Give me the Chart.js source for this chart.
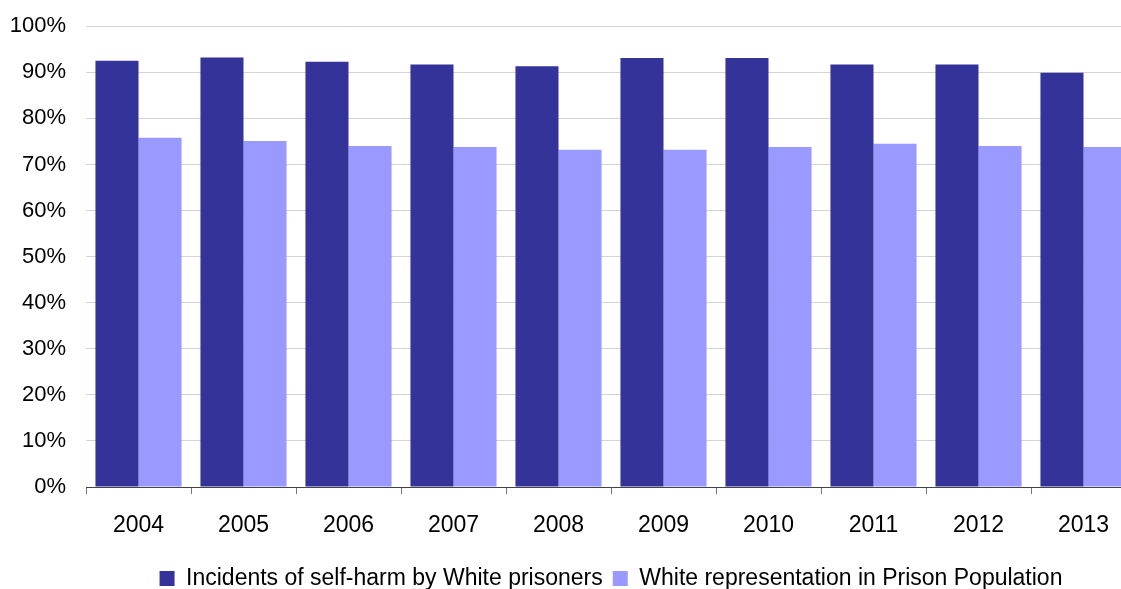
<!DOCTYPE html>
<html lang="en">
<head>
    <meta charset="UTF-8">
    <title>Self-harm incidents - White prisoners</title>
    <script src="https://cdn.jsdelivr.net/npm/chart.js"></script>
    <style>
        html, body { margin: 0; padding: 0; overflow: hidden; background: #fff; }
        #wrap { width: 1140px; height: 607px; position: relative; margin-top: -7px; }
    </style>
</head>
<body>
    <div id="wrap">
        <canvas id="selfHarmChart"></canvas>
    </div>

    <script>
        const years = ['2004', '2005', '2006', '2007', '2008', '2009', '2010', '2011', '2012', '2013'];
        const selfHarmShare = [92.5, 93.2, 92.3, 91.7, 91.3, 93.1, 93.1, 91.7, 91.7, 89.9];
        const populationShare = [75.8, 75.1, 74.0, 73.8, 73.2, 73.2, 73.8, 74.5, 74.0, 73.8];
        const yTicks = [0, 10, 20, 30, 40, 50, 60, 70, 80, 90, 100];

        Chart.defaults.font.family = '"Liberation Sans", Arial, sans-serif';
        Chart.defaults.color = '#000';

        const selfHarmChart = new Chart(document.getElementById('selfHarmChart'), {
            type: 'bar',
            data: {
                labels: years,
                datasets: [{
                    label: 'Incidents of self-harm by White prisoners',
                    data: selfHarmShare,
                    backgroundColor: '#333399'
                }, {
                    label: 'White representation in Prison Population',
                    data: populationShare,
                    backgroundColor: '#9999ff'
                }]
            },
            options: {
                responsive: true,
                maintainAspectRatio: false,
                animation: false,
                datasets: {
                    bar: { categoryPercentage: 0.82, barPercentage: 1.0 }
                },
                layout: { padding: { top: 9, left: 0, right: 4, bottom: 0 } },
                plugins: {
                    tooltip: { enabled: false },
                    legend: {
                        position: 'bottom',
                        fullSize: false,
                        labels: {
                            boxWidth: 15,
                            boxHeight: 15,
                            padding: 10,
                            font: { size: 23 },
                            color: '#000'
                        }
                    }
                },
                scales: {
                    x: {
                        grid: {
                            drawOnChartArea: false,
                            drawTicks: true,
                            tickLength: 7,
                            color: '#777'
                        },
                        border: { color: '#444', width: 1 },
                        ticks: { padding: 18, font: { size: 23 }, color: '#000' },
                        afterFit(scale) { scale.height = 70; }
                    },
                    y: {
                        min: 0,
                        max: 100,
                        afterBuildTicks(scale) {
                            scale.ticks = yTicks.map(v => ({ value: v }));
                        },
                        grid: { color: '#d4d4d4', drawTicks: false },
                        border: { display: false },
                        ticks: {
                            padding: 20,
                            font: { size: 22 },
                            color: '#000',
                            callback: v => v + '%'
                        },
                        afterFit(scale) { scale.width = 86; }
                    }
                }
            }
        });
    </script>
</body>
</html>
